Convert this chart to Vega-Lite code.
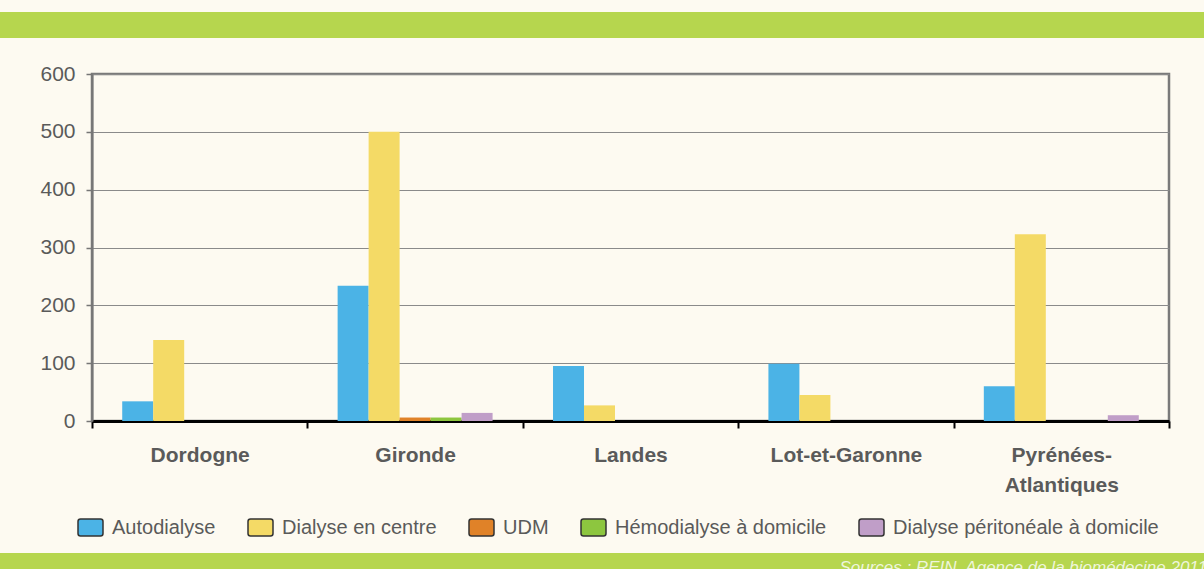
{
  "$schema": "https://vega.github.io/schema/vega-lite/v6.json",
  "background": "#fdfaf1",
  "padding": {"left": 0, "top": 12, "right": 0, "bottom": 0},
  "spacing": 23,
  "columns": 1,
  "align": "none",
  "config": {
    "font": "Liberation Sans",
    "view": {"stroke": null}
  },
  "concat": [
    {
      "width": 1112,
      "height": 26,
      "data": {"values": [{"band": "top"}]},
      "mark": {"type": "rect", "color": "#b6d64e", "clip": false},
      "encoding": {
        "x": {"datum": 0, "type": "quantitative", "scale": {"domain": [0, 1], "range": [-92, 1112]}, "axis": null},
        "x2": {"datum": 1},
        "y": {"datum": 0, "type": "quantitative", "scale": {"domain": [0, 1]}, "axis": null},
        "y2": {"datum": 1}
      }
    },
    {
      "spacing": 56,
      "columns": 1,
      "align": "none",
      "concat": [
        {
          "width": 1077,
          "height": 347,
          "view": {"stroke": "#7a7a7a", "strokeWidth": 2.5},
          "data": {
            "values": [
              {"dept": "Dordogne", "type": "Autodialyse", "value": 34},
              {"dept": "Dordogne", "type": "Dialyse en centre", "value": 140},
              {"dept": "Dordogne", "type": "UDM", "value": 0},
              {"dept": "Dordogne", "type": "Hémodialyse à domicile", "value": 0},
              {"dept": "Dordogne", "type": "Dialyse péritonéale à domicile", "value": 0},
              {"dept": "Gironde", "type": "Autodialyse", "value": 234},
              {"dept": "Gironde", "type": "Dialyse en centre", "value": 500},
              {"dept": "Gironde", "type": "UDM", "value": 6},
              {"dept": "Gironde", "type": "Hémodialyse à domicile", "value": 6},
              {"dept": "Gironde", "type": "Dialyse péritonéale à domicile", "value": 14},
              {"dept": "Landes", "type": "Autodialyse", "value": 95},
              {"dept": "Landes", "type": "Dialyse en centre", "value": 27},
              {"dept": "Landes", "type": "UDM", "value": 0},
              {"dept": "Landes", "type": "Hémodialyse à domicile", "value": 0},
              {"dept": "Landes", "type": "Dialyse péritonéale à domicile", "value": 0},
              {"dept": "Lot-et-Garonne", "type": "Autodialyse", "value": 99},
              {"dept": "Lot-et-Garonne", "type": "Dialyse en centre", "value": 45},
              {"dept": "Lot-et-Garonne", "type": "UDM", "value": 0},
              {"dept": "Lot-et-Garonne", "type": "Hémodialyse à domicile", "value": 0},
              {"dept": "Lot-et-Garonne", "type": "Dialyse péritonéale à domicile", "value": 0},
              {"dept": "Pyrénées-Atlantiques", "type": "Autodialyse", "value": 60},
              {"dept": "Pyrénées-Atlantiques", "type": "Dialyse en centre", "value": 323},
              {"dept": "Pyrénées-Atlantiques", "type": "UDM", "value": 0},
              {"dept": "Pyrénées-Atlantiques", "type": "Hémodialyse à domicile", "value": 0},
              {"dept": "Pyrénées-Atlantiques", "type": "Dialyse péritonéale à domicile", "value": 10}
            ]
          },
          "mark": {"type": "bar"},
          "encoding": {
            "x": {
              "field": "dept",
              "type": "nominal",
              "sort": ["Dordogne", "Gironde", "Landes", "Lot-et-Garonne", "Pyrénées-Atlantiques"],
              "scale": {"paddingInner": 0, "paddingOuter": 0},
              "axis": {
                "title": null,
                "tickBand": "extent",
                "domainColor": "#000000",
                "domainWidth": 3,
                "tickColor": "#000000",
                "tickWidth": 2,
                "tickSize": 7,
                "labelPadding": 16,
                "labelFontSize": 21,
                "labelFontWeight": "bold",
                "labelColor": "#5a5a5a",
                "labelLineHeight": 30,
                "labelAngle": 0,
                "labelExpr": "datum.label == 'Pyrénées-Atlantiques' ? ['Pyrénées-', 'Atlantiques'] : datum.label"
              }
            },
            "xOffset": {
              "field": "type",
              "type": "nominal",
              "sort": ["Autodialyse", "Dialyse en centre", "UDM", "Hémodialyse à domicile", "Dialyse péritonéale à domicile"],
              "scale": {"paddingInner": 0, "paddingOuter": 0.975}
            },
            "y": {
              "field": "value",
              "type": "quantitative",
              "scale": {"domain": [0, 600], "nice": false},
              "axis": {
                "title": "y",
                "titleOpacity": 0,
                "titleFontSize": 10,
                "titlePadding": 28,
                "values": [0, 100, 200, 300, 400, 500, 600],
                "domainColor": "#767676",
                "domainWidth": 2,
                "tickColor": "#767676",
                "tickSize": 6,
                "tickWidth": 1.5,
                "labelPadding": 11,
                "labelFontSize": 21,
                "labelColor": "#5a5a5a",
                "gridColor": "#8a8a8a",
                "gridWidth": 1.2
              }
            },
            "color": {
              "field": "type",
              "type": "nominal",
              "sort": ["Autodialyse", "Dialyse en centre", "UDM", "Hémodialyse à domicile", "Dialyse péritonéale à domicile"],
              "scale": {
                "domain": ["Autodialyse", "Dialyse en centre", "UDM", "Hémodialyse à domicile", "Dialyse péritonéale à domicile"],
                "range": ["#4bb3e6", "#f4da66", "#e08228", "#8dc63f", "#c09ec8"]
              },
              "legend": {
                "title": null,
                "orient": "none",
                "legendX": -15,
                "legendY": 502,
                "direction": "horizontal",
                "columns": 5,
                "gridAlign": "none",
                "columnPadding": 29,
                "symbolType": "M-0.8,-0.68 L0.8,-0.68 Q1,-0.68 1,-0.48 L1,0.48 Q1,0.68 0.8,0.68 L-0.8,0.68 Q-1,0.68 -1,0.48 L-1,-0.48 Q-1,-0.68 -0.8,-0.68 Z",
                "symbolSize": 625,
                "symbolStrokeColor": "#333333",
                "symbolStrokeWidth": 1.5,
                "symbolOpacity": 1,
                "labelOffset": 8,
                "labelFontSize": 20,
                "labelLimit": 500,
                "labelColor": "#5a5a5a",
                "padding": 0
              }
            }
          }
        },
        {
          "width": 1112,
          "height": 17,
          "layer": [
            {
              "data": {"values": [{"band": "bottom"}]},
              "mark": {"type": "rect", "color": "#b6d64e", "clip": false},
              "encoding": {
                "x": {"datum": 0, "type": "quantitative", "scale": {"domain": [0, 1], "range": [-92, 1112]}, "axis": null},
                "x2": {"datum": 1},
                "y": {"datum": 0, "type": "quantitative", "scale": {"domain": [0, 1]}, "axis": null},
                "y2": {"datum": 1}
              }
            },
            {
              "data": {"values": [{"source": "Sources : REIN, Agence de la biomédecine 2011"}]},
              "mark": {"type": "text", "align": "right", "baseline": "alphabetic", "fontStyle": "italic", "fontSize": 17, "color": "#eef5dc", "dx": 3, "dy": 3},
              "encoding": {
                "x": {"datum": 1, "type": "quantitative"},
                "y": {"datum": 0, "type": "quantitative"},
                "text": {"field": "source", "type": "nominal"}
              }
            }
          ]
        }
      ]
    }
  ]
}
